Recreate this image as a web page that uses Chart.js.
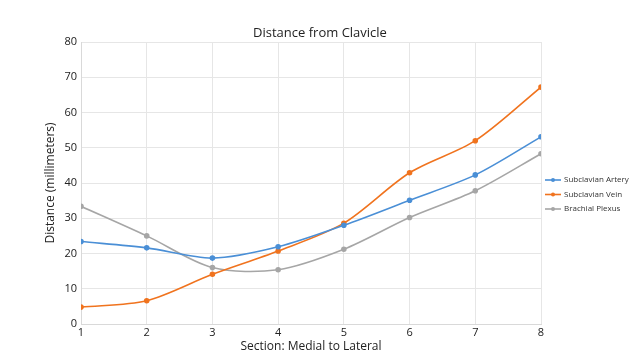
<!DOCTYPE html>
<html>
<head>
  <meta charset="UTF-8">
  <title>Distance from Clavicle</title>
  <script src="https://cdn.jsdelivr.net/npm/chart.js"></script>
  <style>
    body { margin: 0; background: #fff; }
    #wrap { width: 640px; height: 359px; }
  </style>
</head>
<body>
  <div id="wrap"><canvas id="chart" width="640" height="359"></canvas></div>

  <script>
    const sections = [1, 2, 3, 4, 5, 6, 7, 8];
    const artery = [23.4, 21.6, 18.7, 21.9, 28.0, 35.1, 42.3, 53.1];
    const vein   = [4.8, 6.6, 14.1, 20.7, 28.6, 42.9, 52.0, 67.2];
    const plexus = [33.4, 25.0, 16.0, 15.4, 21.2, 30.2, 37.8, 48.3];
    const seriesNames = ['Subclavian Artery', 'Subclavian Vein', 'Brachial Plexus'];
    const seriesColors = ['#4a8fd6', '#f0731e', '#a6a6a6'];

    const FONT = "'Open Sans', sans-serif";

    function pts(vals) {
      return vals.map((v, i) => ({ x: sections[i], y: v }));
    }

    const datasets = [artery, vein, plexus].map((vals, i) => ({
      label: seriesNames[i],
      data: pts(vals),
      borderColor: seriesColors[i],
      backgroundColor: seriesColors[i],
      borderWidth: 1.6,
      pointRadius: 2,
      pointHoverRadius: 2,
      tension: 0.3,
      fill: false
    }));

    // legend drawn by hand: line with a dot, like the original
    const sideLegend = {
      id: 'sideLegend',
      afterDraw(chart) {
        const ctx = chart.ctx;
        ctx.save();
        ctx.font = "8px " + FONT;
        ctx.textBaseline = 'middle';
        chart.data.datasets.forEach((ds, i) => {
          const y = 180 + i * 14.5;
          ctx.strokeStyle = ds.borderColor;
          ctx.lineWidth = 1.6;
          ctx.beginPath();
          ctx.moveTo(545, y);
          ctx.lineTo(561, y);
          ctx.stroke();
          ctx.fillStyle = ds.borderColor;
          ctx.beginPath();
          ctx.arc(553, y, 2, 0, Math.PI * 2);
          ctx.fill();
          ctx.fillStyle = '#333';
          ctx.fillText(ds.label, 564, y);
        });
        ctx.restore();
      }
    };

    new Chart(document.getElementById('chart'), {
      type: 'line',
      data: { datasets },
      plugins: [sideLegend],
      options: {
        responsive: false,
        animation: false,
        layout: { padding: 0 },
        plugins: {
          legend: { display: false },
          tooltip: { enabled: false },
          title: {
            display: true,
            text: 'Distance from Clavicle',
            color: '#222',
            font: { family: FONT, size: 13, weight: 'normal', lineHeight: 1.2 },
            padding: { top: 25, bottom: 1.4 }
          }
        },
        scales: {
          x: {
            type: 'linear',
            min: 1,
            max: 8,
            ticks: { stepSize: 1, color: '#222', font: { family: FONT, size: 11 }, padding: 2 },
            grid: { color: '#e6e6e6', drawTicks: false },
            border: { color: '#d9d9d9' },
            title: {
              display: true,
              text: 'Section: Medial to Lateral',
              color: '#222',
              font: { family: FONT, size: 12 },
              padding: { top: 0, bottom: 5 }
            },
            afterFit(s) { s.height = 35; }
          },
          y: {
            min: 0,
            max: 80,
            ticks: { stepSize: 10, color: '#222', font: { family: FONT, size: 11 }, padding: 4 },
            grid: { color: '#e6e6e6', drawTicks: false },
            border: { color: '#d9d9d9' },
            title: {
              display: true,
              text: 'Distance (millimeters)',
              color: '#222',
              font: { family: FONT, size: 12 },
              padding: { top: 43, bottom: 0 }
            },
            afterFit(s) { s.width = 81; }
          },
          // empty right axis, only reserves room for the legend
          side: {
            type: 'linear',
            position: 'right',
            display: true,
            min: 0,
            max: 80,
            grid: { display: false, drawTicks: false },
            ticks: { display: false },
            border: { display: false },
            afterFit(s) { s.width = 99; }
          }
        }
      }
    });
  </script>
</body>
</html>
